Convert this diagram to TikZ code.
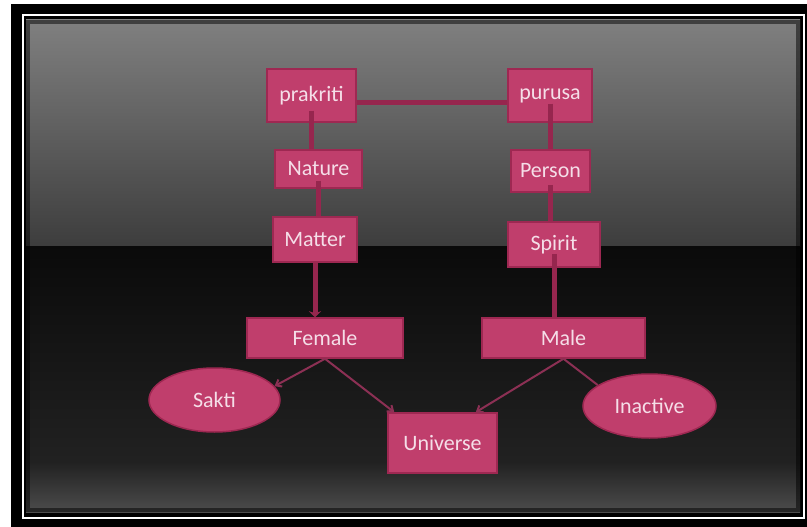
\documentclass[tikz,border=0pt]{standalone}
\usepackage{fontspec}
\setmainfont{Carlito}
\usepackage{xcolor}
\usepackage{tikz}
\usetikzlibrary{arrows.meta,shapes.geometric}

\definecolor{boxfill}{RGB}{192,62,108}
\definecolor{boxline}{RGB}{158,40,82}
\definecolor{linkcol}{RGB}{150,38,78}
\definecolor{thincol}{RGB}{140,48,84}
\definecolor{txtcol}{RGB}{245,222,232}

\begin{document}
\begin{tikzpicture}[x=1pt, y=-1pt, >=Stealth,
    every node/.style={font=\fontsize{22}{26}\selectfont, text=txtcol},
    pbox/.style={draw=boxline, line width=1.5pt, fill=boxfill, inner sep=0pt},
    oval/.style={ellipse, draw=boxline, line width=1.5pt, fill=boxfill, inner sep=0pt},
    link/.style={linkcol, line width=5pt},
    thinlink/.style={thincol, line width=2pt, -{Straight Barb[length=5pt,width=8pt]}}]
  \useasboundingbox (0,0) rectangle (807,527);

  % Frame and slide background
  \fill[white] (0,0) rectangle (807,527);
  \fill[black] (11,4) rectangle (807,527);
  \draw[white, line width=2pt] (22.5,15) rectangle (804,517.5);
  \shade[top color=black!50, bottom color=black!76] (26,20) rectangle (800,246);
  \shade[top color=black!96, bottom color=black!87] (26,246) rectangle (800,462);
  \shade[top color=black!87, bottom color=black!70] (26,462) rectangle (800,512);
  \draw[black, opacity=0.5, line width=4pt] (28,22) rectangle (798,510);

  % Nodes
  \node[pbox, minimum width=89pt, minimum height=53pt] (prakriti) at (311.5,95.5) {prakriti};
  \node[pbox, minimum width=84pt, minimum height=53pt] (purusa) at (550,95.5) {purusa};
  \node[pbox, minimum width=87pt, minimum height=38pt] (nature) at (318.5,169) {Nature};
  \node[pbox, minimum width=84pt, minimum height=45pt] (matter) at (315,239.5) {Matter};
  \node[pbox, minimum width=79pt, minimum height=42pt] (person) at (550.5,171) {Person};
  \node[pbox, minimum width=92pt, minimum height=45pt] (spirit) at (554,244.5) {Spirit};
  \node[pbox, minimum width=156pt, minimum height=40pt] (female) at (325,338) {Female};
  \node[pbox, minimum width=163pt, minimum height=40pt] (male) at (563.5,338) {Male};
  \node[pbox, minimum width=109pt, minimum height=60pt] (universe) at (442.5,443) {Universe};
  \node[oval, minimum width=131pt, minimum height=64pt] (sakti) at (214.5,400) {Sakti};
  \node[oval, minimum width=133pt, minimum height=64pt] (inactive) at (649.5,406) {Inactive};

  % Thick links
  \draw[link] ([yshift=-7.5pt]prakriti.east) -- ([yshift=-7.5pt]purusa.west);
  \draw[link] ([yshift=12pt]prakriti.south) -- (prakriti.south |- nature.north);
  \draw[link] ([yshift=8pt]nature.south) -- (nature.south |- matter.north);
  \draw[link, -{Stealth[length=6pt,width=12pt]}] (matter.south) -- (matter.south |- female.north);
  \draw[link] ([yshift=19pt]purusa.south) -- (purusa.south |- person.north);
  \draw[link] ([yshift=8pt]person.south) -- (person.south |- spirit.north);
  \draw[link] ([yshift=14pt]spirit.south) -- (spirit.south |- male.north);

  % Thin arrows
  \draw[thinlink] (female.south) -- (sakti.13);
  \draw[thinlink] (female.south) -- ([xshift=7pt]universe.north west);
  \draw[thinlink] (male.south) -- ([xshift=-22pt]universe.north east);
  \draw[thincol, line width=2pt] (male.south) -- (inactive.158);
\end{tikzpicture}
\end{document}
